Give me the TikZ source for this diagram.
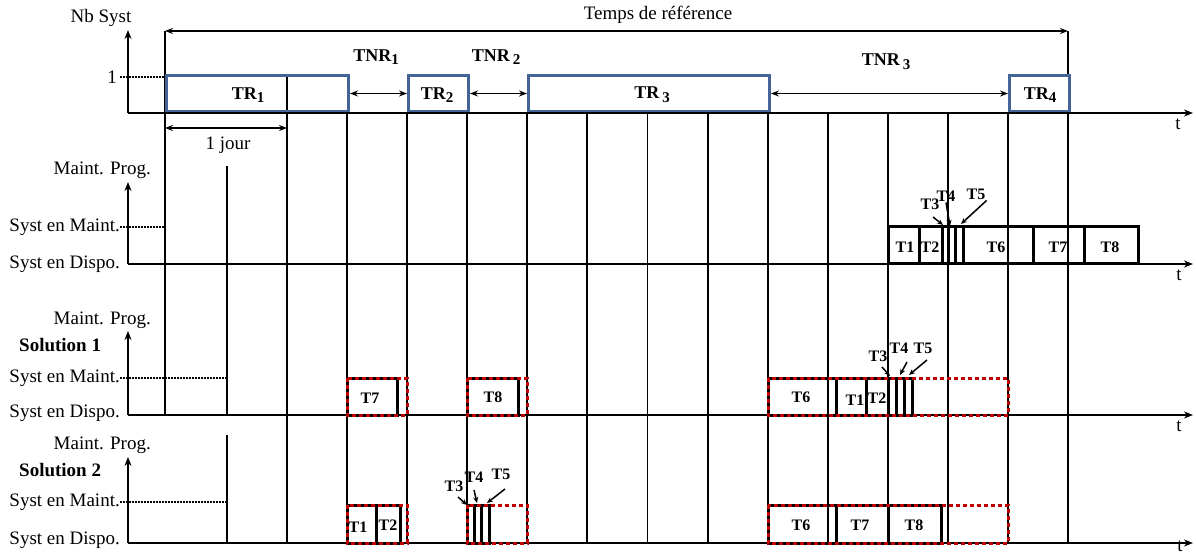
\documentclass[tikz,border=0pt]{standalone}
\usepackage{fontspec}
\setmainfont{Liberation Serif}
\usetikzlibrary{arrows.meta}
\definecolor{trblue}{RGB}{68,100,150}
\definecolor{solred}{RGB}{192,0,0}
\newcommand{\lbl}{\fontsize{19}{22}\selectfont}
\newcommand{\tlbl}{\fontsize{16}{18}\selectfont\bfseries}
\newcommand{\idx}[1]{\raisebox{-0.45ex}{\fontsize{15}{15}\selectfont#1}}
\tikzset{
  axisarr/.style   = {-{Stealth[length=9pt,width=7pt]},line width=2pt},
  spanarr/.style   = {{Stealth[length=8pt,width=6pt]}-{Stealth[length=8pt,width=6pt]},line width=1.6pt},
  tiparr/.style    = {-{Stealth[length=6pt,width=5pt]},line width=1.5pt},
  gridline/.style  = {line width=1.9pt},
  levelline/.style = {line width=1.2pt,dash pattern=on 2pt off 1pt},
  trbox/.style     = {draw=trblue,line width=3pt,inner sep=0pt,anchor=south west},
  taskbox/.style   = {draw=black,line width=3pt},
  planbox/.style   = {draw=solred,line width=3pt,dash pattern=on 4pt off 3pt},
  txt/.style       = {font=\lbl,inner sep=1pt},
  tname/.style     = {font=\tlbl,inner sep=1pt},
  trname/.style    = {font=\fontsize{18}{20}\selectfont\bfseries,inner sep=1pt}
}
% one state axis: #1 arrow top, #2 maintenance level, #3 base, #4 end of level line
\newcommand{\stateaxes}[4]{%
  \draw[levelline] (120,#2) -- (#4,#2);
  \draw[axisarr] (128,#3) -- (128,#1);
  \draw[axisarr] (128,#3) -- (1193,#3);
}
% tasks #3 (pairs a/b) between #1 and #2
\newcommand{\taskrow}[3]{%
  \foreach \a/\b in {#3} \draw[taskbox] (\a,#1) rectangle (\b,#2);
}
\begin{document}
\begin{tikzpicture}[x=1pt,y=-1pt]
  \useasboundingbox (0,0) rectangle (1196,553);
  % reference period
  \coordinate (refA) at (165,31);
  \coordinate (refB) at (1068,31);
  \draw[spanarr] (refA) -- (refB);
  \node[txt] (reftxt) at (658,15) {Temps de référence};
  \draw[gridline] (refA) -- (165,415);
  \draw[gridline] (refB) -- (1068,77);
  % day grid
  \foreach \i in {0,...,13}
    \draw[gridline] ({287+60.08*\i},113) -- ({287+60.08*\i},543);
  \draw[gridline] (287,77) -- (287,113);
  \draw[gridline] (227,166) -- (227,415);
  \draw[gridline] (227,435) -- (227,543);
  % availability windows
  \node[trbox,minimum width=182pt,minimum height=36pt] (tr1) at (165,113) {};
  \node[trbox,minimum width=60pt,minimum height=36pt]  (tr2) at (407,113) {};
  \node[trbox,minimum width=241pt,minimum height=36pt] (tr3) at (527,113) {};
  \node[trbox,minimum width=60pt,minimum height=36pt]  (tr4) at (1008,113) {};
  \node[trname] (tr1txt) at (248,95) {TR\idx{1}};
  \node[trname] (tr2txt) at (437,95) {TR\idx{2}};
  \node[trname] (tr3txt) at (652,95) {TR\,\idx{3}};
  \node[trname] (tr4txt) at (1040,95) {TR\idx{4}};
  \draw[spanarr] (tr1.east) -- (tr2.west);
  \draw[spanarr] (tr2.east) -- (tr3.west);
  \draw[spanarr] (tr3.east) -- (tr4.west);
  \node[trname] (tnr1) at (376,57) {TNR\idx{1}};
  \node[trname] (tnr2) at (496,57) {TNR\,\idx{2}};
  \node[trname] (tnr3) at (886,62) {TNR\,\idx{3}};
  % top axes
  \draw[levelline] (120,77) -- (165,77);
  \draw[axisarr] (128,113) -- (128,30);
  \draw[axisarr] (128,113) -- (1193,113);
  \node[txt] (nbsyst) at (101,18) {Nb Syst};
  \node[txt] (one) at (112,77) {1};
  \node[txt] (t1) at (1178,124) {t};
  \coordinate (dayA) at (165,128);
  \coordinate (dayB) at (287,128);
  \draw[spanarr] (dayA) -- (dayB);
  \node[txt] (day) at (228,145) {1 jour};
  % programmed maintenance
  \stateaxes{182}{227}{264}{165}
  \node[txt,anchor=east] (mp2) at (152,170) {Maint. Prog.};
  \node[txt,anchor=east] (sm2) at (121,227) {Syst en Maint.};
  \node[txt,anchor=east] (sd2) at (121,264) {Syst en Dispo.};
  \node[txt] (t2) at (1179,275) {t};
  \taskrow{227}{264}{888/919,919/942,942/948,948/955,955/963,963/1033,1033/1084,1084/1138}
  \node[tname] (pa1) at (905,247) {T1};
  \node[tname] (pa2) at (930,247) {T2};
  \node[tname] (pa6) at (996,247) {T6};
  \node[tname] (pa7) at (1058,247) {T7};
  \node[tname] (pa8) at (1110,247) {T8};
  \node[tname] (pa3) at (930,204) {T3};
  \node[tname] (pa4) at (946,196) {T4};
  \node[tname] (pa5) at (976,194) {T5};
  \coordinate (pa3end) at (943,225);
  \coordinate (pa4end) at (950,226);
  \coordinate (pa5end) at (961,224);
  \draw[tiparr] (933,217) -- (pa3end);
  \draw[tiparr] (pa4.south) -- (pa4end);
  \draw[tiparr] (pa5.south east) -- (pa5end);
  % solution 1
  \stateaxes{331}{378}{415}{227}
  \node[txt,anchor=east] (mp3) at (152,320) {Maint. Prog.};
  \node[txt,anchor=west,font=\lbl\bfseries] (sol1) at (18,345) {Solution 1};
  \node[txt,anchor=east] (sm3) at (121,378) {Syst en Maint.};
  \node[txt,anchor=east] (sd3) at (121,413) {Syst en Dispo.};
  \node[txt] (t3) at (1179,426) {t};
  \taskrow{378}{415}{347/397,467/518,768/836,836/866,866/888,888/896,896/904,904/912}
  \draw[planbox] (347,378) rectangle (407,415);
  \draw[planbox] (467,378) rectangle (527,415);
  \draw[planbox] (768,378) rectangle (1008,415);
  \node[tname] (sa7) at (370,398) {T7};
  \node[tname] (sa8) at (493,397) {T8};
  \node[tname] (sa6) at (801,397) {T6};
  \node[tname] (sa1) at (855,400) {T1};
  \node[tname] (sa2) at (877,398) {T2};
  \node[tname] (sa3) at (878,356) {T3};
  \node[tname] (sa4) at (899,348) {T4};
  \node[tname] (sa5) at (923,348) {T5};
  \coordinate (sa3end) at (890,376);
  \coordinate (sa4end) at (900,375);
  \coordinate (sa5end) at (909,375);
  \draw[tiparr] (882,367) -- (sa3end);
  \draw[tiparr] (907,362) -- (sa4end);
  \draw[tiparr] (927,360) -- (sa5end);
  % solution 2
  \stateaxes{457}{502}{543}{227}
  \node[txt,anchor=east] (mp4) at (152,445) {Maint. Prog.};
  \node[txt,anchor=west,font=\lbl\bfseries] (sol2) at (18,470) {Solution 2};
  \node[txt,anchor=east] (sm4) at (121,502) {Syst en Maint.};
  \node[txt,anchor=east] (sd4) at (121,540) {Syst en Dispo.};
  \node[txt,anchor=south] (t4) at (1180,553) {t};
  \taskrow{505}{543}{347/376,376/400,467/474,474/481,481/489,768/836,836/888,888/941}
  \draw[planbox] (347,505) rectangle (407,543);
  \draw[planbox] (467,505) rectangle (527,543);
  \draw[planbox] (768,505) rectangle (1008,543);
  \node[tname] (sb1) at (358,527) {T1};
  \node[tname] (sb2) at (388,525) {T2};
  \node[tname] (sb6) at (801,525) {T6};
  \node[tname] (sb7) at (860,525) {T7};
  \node[tname] (sb8) at (914,525) {T8};
  \node[tname] (sb3) at (454,486) {T3};
  \node[tname] (sb4) at (474,477) {T4};
  \node[tname] (sb5) at (501,474) {T5};
  \coordinate (sb3end) at (467,505);
  \coordinate (sb4end) at (477,503);
  \coordinate (sb5end) at (487,503);
  \draw[tiparr] (458,497) -- (sb3end);
  \draw[tiparr] (474,490) -- (sb4end);
  \draw[tiparr] (505,489) -- (sb5end);
\end{tikzpicture}
\end{document}
